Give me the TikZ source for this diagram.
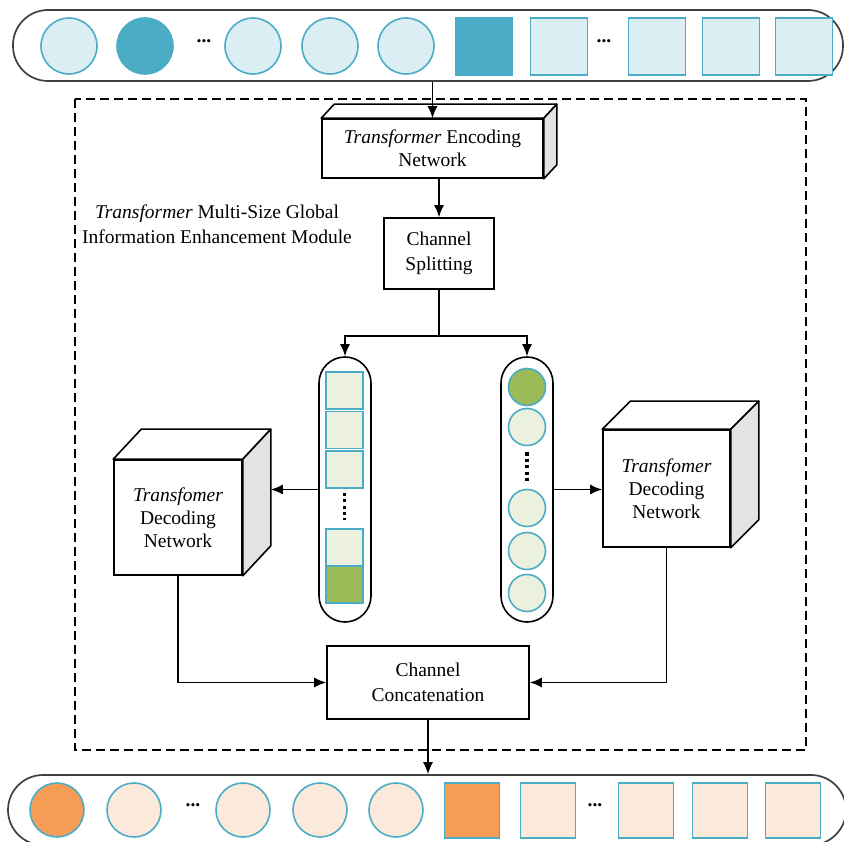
\documentclass[tikz,border=0pt]{standalone}
\usepackage{fontspec}
\setmainfont{Liberation Serif}
\usetikzlibrary{arrows.meta,calc}

\definecolor{aqua}{HTML}{4BACC6}
\definecolor{aqualight}{HTML}{DAEEF3}
\definecolor{orangedark}{HTML}{F59D56}
\definecolor{orangelight}{HTML}{FBE9DB}
\definecolor{olivedark}{HTML}{9BBB59}
\definecolor{olivelight}{HTML}{EBF1DE}
\definecolor{sidegray}{HTML}{E3E3E3}
\definecolor{barline}{HTML}{3F3F3F}

% top and side faces of a cuboid whose front face is node #1, depth (#2,#3)
\newcommand\cubefaces[3]{%
  \draw[box3d,fill=white] (#1.north west) -- ++(#2,-#3) -- ($(#1.north east)+(#2,-#3)$) -- (#1.north east) -- cycle;
  \draw[box3d,fill=sidegray] (#1.north east) -- ++(#2,-#3) -- ($(#1.south east)+(#2,-#3)$) -- (#1.south east) -- cycle;
  \coordinate (#1back) at ($(#1.north east)+(#2,-#3)$);
}

\begin{document}
\begin{tikzpicture}[x=1pt,y=-1pt,
  font=\fontsize{19.5}{23}\selectfont,
  box/.style={draw=black,line width=1.6pt,fill=white,align=center,inner sep=0pt},
  box3d/.style={draw=black,line width=1.6pt,line join=round},
  flow/.style={line width=1.5pt,-{Latex[length=12pt,width=10pt]}},
  plain/.style={line width=1.5pt},
  bar/.style={draw=barline,line width=1.7pt,rounded corners=35pt,inner sep=0pt},
  pill/.style={draw=black,line width=1.6pt,rounded corners=26pt,inner sep=0pt,minimum width=52pt,minimum height=265pt},
  tokc/.style={circle,draw=aqua,line width=1.6pt,inner sep=0pt},
  toks/.style={rectangle,draw=aqua,line width=1.6pt,inner sep=0pt},
  ellip/.style={inner sep=0pt,font=\fontsize{19.5}{23}\selectfont\bfseries},
  vdots/.style={line width=3.2pt,dash pattern=on 3.2pt off 3.2pt}
]
\useasboundingbox (0,0) rectangle (844,842);
\clip (0,0) rectangle (844,842);

% ---------- input sequence ----------
\node[bar,minimum width=830pt,minimum height=71pt] (inbar) at (428,45.5) {};
\foreach \x/\c [count=\i] in {69/aqualight,145/aqua,253/aqualight,330/aqualight,406/aqualight}
  \node[tokc,minimum size=56pt,fill=\c] (ic\i) at (\x,46) {};
\foreach \x/\c [count=\i] in {484/aqua,559/aqualight,657/aqualight,731/aqualight,804/aqualight}
  \node[toks,minimum size=57pt,fill=\c] (is\i) at (\x,46.5) {};
\node[ellip] (idots1) at (204,41) {...};
\node[ellip] (idots2) at (604,41) {...};

% ---------- module frame ----------
\draw[line width=1.3pt,dash pattern=on 9pt off 5pt] (75,99) rectangle (806,750);
\node[align=center,inner sep=0pt,font=\fontsize{19.5}{25}\selectfont] (title) at (217,224.5)
  {\textit{Transformer} Multi-Size Global\\Information Enhancement Module};

% ---------- encoder ----------
\node[box,minimum width=221pt,minimum height=59pt] (enc) at (432.5,148.5)
  {\textit{Transformer} Encoding\\Network};
\cubefaces{enc}{13}{14}
\draw[flow] (enc.north |- inbar.south) -- (enc.north);

% ---------- channel splitting ----------
\node[box,minimum width=110pt,minimum height=71pt,font=\fontsize{19.5}{25}\selectfont] (split) at (439,253.5)
  {Channel\\Splitting};
\draw[flow] (split.north |- enc.south) -- (split.north);

% ---------- two branches ----------
\node[pill] (lcol) at (345,489.5) {};
\node[pill] (rcol) at (527,489.5) {};
\draw[plain] (split.south) -- ++(0,46) coordinate (fork);
\draw[flow] (fork) -| (lcol.north);
\draw[flow] (fork) -| (rcol.north);

\foreach \y/\c [count=\i] in {390.5/olivelight,430/olivelight,469.5/olivelight,547.5/olivelight,584.5/olivedark}
  \node[toks,minimum size=37pt,fill=\c] (ls\i) at (344.5,\y) {};
\coordinate (lda) at ($(ls3.south)+(0,4)$);
\coordinate (ldb) at ($(ls4.north)+(0,-8)$);
\draw[vdots] (lda) -- (ldb);

\foreach \y/\c [count=\i] in {387/olivedark,427/olivelight,508/olivelight,551/olivelight,593/olivelight}
  \node[tokc,minimum size=37pt,fill=\c] (rc\i) at (527,\y) {};
\coordinate (rda) at ($(rc2.south)+(0,6)$);
\coordinate (rdb) at ($(rc3.north)+(0,-6)$);
\draw[vdots] (rda) -- (rdb);

% ---------- decoders ----------
\node[box,minimum width=128pt,minimum height=115pt] (ldec) at (178,517.5)
  {\textit{Transfomer}\\Decoding\\Network};
\cubefaces{ldec}{28}{30}
\node[box,minimum width=127pt,minimum height=117pt] (rdec) at (666.5,488.5)
  {\textit{Transfomer}\\Decoding\\Network};
\cubefaces{rdec}{28}{28}

\draw[flow] (lcol.west) -- (lcol.west -| ldecback);
\draw[flow] (rcol.east) -- (rcol.east -| rdec.west);

% ---------- concatenation ----------
\node[box,minimum width=202pt,minimum height=73pt,font=\fontsize{19.5}{25}\selectfont] (cat) at (428,682.5)
  {Channel\\Concatenation};
\draw[flow] (ldec.south) |- (cat.west);
\draw[flow] (rdec.south) |- (cat.east);

% ---------- output sequence ----------
\node[bar,minimum width=838pt,minimum height=70pt] (outbar) at (427,810) {};
\draw[flow] (cat.south) -- (cat.south |- outbar.north);
\foreach \x/\c [count=\i] in {57/orangedark,134/orangelight,243/orangelight,320/orangelight,396/orangelight}
  \node[tokc,minimum size=54pt,fill=\c] (oc\i) at (\x,810) {};
\foreach \x/\c [count=\i] in {472/orangedark,548/orangelight,646/orangelight,720/orangelight,793/orangelight}
  \node[toks,minimum size=55pt,fill=\c] (os\i) at (\x,810.5) {};
\node[ellip] (odots1) at (193,805) {...};
\node[ellip] (odots2) at (595,805) {...};
\end{tikzpicture}
\end{document}
